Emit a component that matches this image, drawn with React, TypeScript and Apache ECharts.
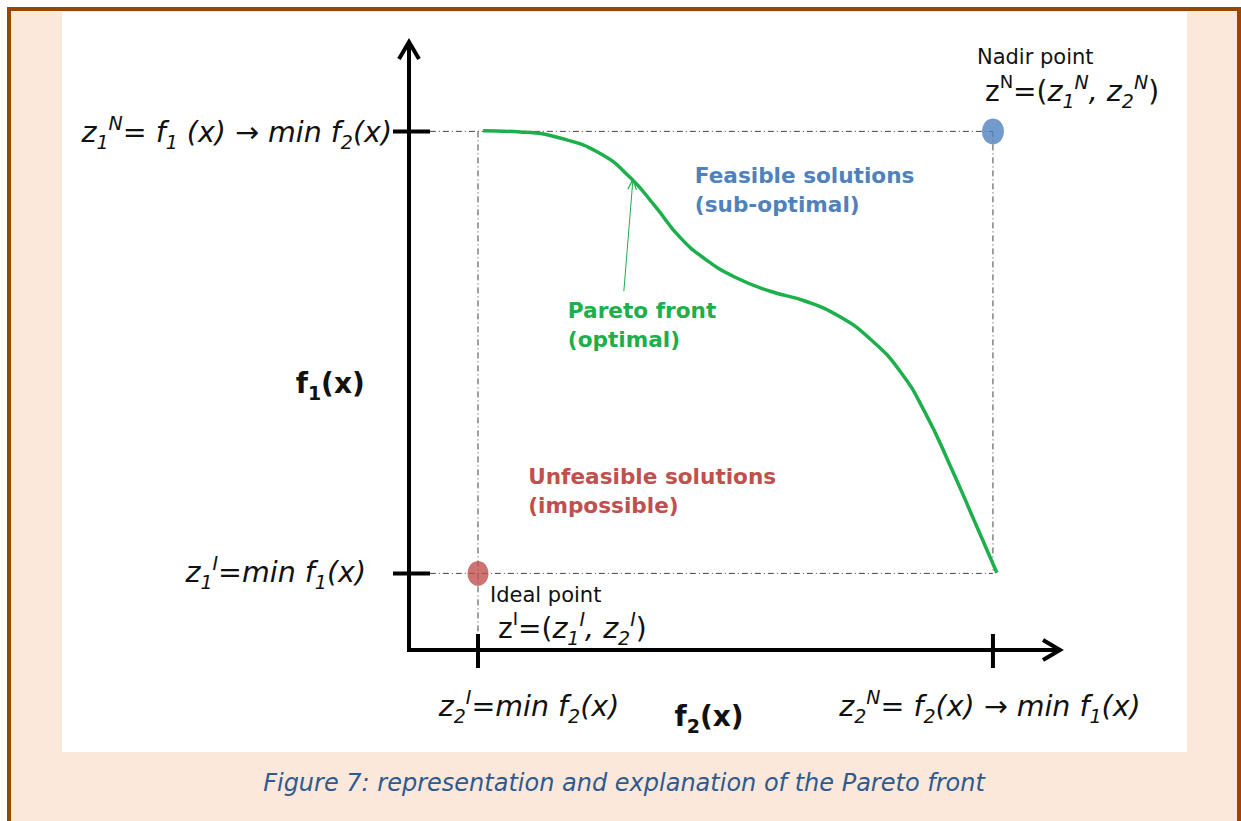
import React, { useEffect, useRef } from "react";
import * as echarts from "echarts";

// ---- data (abstract objective-space units) ----
const X_MIN = 0;
const X_MAX = 10;
const Y_MIN = 0;
const Y_MAX = 10;

// Pareto front samples: f2 (horizontal) and f1 (vertical)
const paretoF2 = [1.14, 1.71, 2.32, 2.93, 3.39, 3.78, 4.16, 4.55, 5.01, 5.55, 6.08, 6.62, 7.08, 7.54, 7.93, 8.31, 8.69, 9.03];
const paretoF1 = [8.54, 8.52, 8.42, 8.17, 7.78, 7.3, 6.79, 6.43, 6.13, 5.9, 5.74, 5.48, 5.12, 4.59, 3.9, 3.04, 2.11, 1.27];

const idealPoint = [1.06, 1.26];
const nadirPoint = [8.97, 8.53];
const tickF2 = [1.06, 8.97];
const tickF1 = [1.26, 8.53];
const pointerFrom = [3.3, 5.9];
const pointerTo = [3.44, 7.74];

// label anchors (data coords)
const feasibleAt = [4.39, 7.57];
const paretoAt = [2.44, 5.34];
const unfeasibleAt = [1.83, 2.61];
const f1NameAt = [-1.21, 4.39];
const f2NameAt = [4.61, -1.1];

const feasibleText = "Feasible solutions\n(sub-optimal)";
const paretoText = "Pareto front\n(optimal)";
const unfeasibleText = "Unfeasible solutions\n(impossible)";
const captionText = "Figure 7: representation and explanation of the Pareto front";

const yTopLabel = "{i|z}{s|1}{p|N}{i|= f}{s|1}{i| (x) → min f}{s|2}{i|(x)}";
const yBottomLabel = "{i|z}{s|1}{p|I}{i|=min f}{s|1}{i|(x)}";
const xLeftLabel = "{i|z}{s|2}{p|I}{i|=min f}{s|2}{i|(x)}";
const xRightLabel = "{i|z}{s|2}{p|N}{i|= f}{s|2}{i|(x) → min f}{s|1}{i|(x)}";
const f1Name = "{b|f}{bs|1}{b|(x)}";
const f2Name = "{b|f}{bs|2}{b|(x)}";
const nadirTitle = "Nadir point";
const nadirFormula = "{u|z}{pu|N}{u|=(}{i|z}{s|1}{p|N}{i|, z}{s|2}{p|N}{u|)}";
const idealTitle = "Ideal point";
const idealFormula = "{u|z}{pu|I}{u|=(}{i|z}{s|1}{p|I}{i|, z}{s|2}{p|I}{u|)}";

const FONT = "DejaVu Sans";
const INK = "#111111";
const GREEN = "#1DAF4C";
const BLUE = "#4F81BD";
const RED = "#C0504D";

const rich: any = {
  i: { fontFamily: FONT, fontStyle: "italic", fontSize: 28.5, lineHeight: 38, color: INK },
  u: { fontFamily: FONT, fontSize: 28, lineHeight: 38, color: INK },
  s: { fontFamily: FONT, fontStyle: "italic", fontSize: 19, lineHeight: 18, verticalAlign: "bottom", color: INK },
  p: { fontFamily: FONT, fontStyle: "italic", fontSize: 19, lineHeight: 18, verticalAlign: "top", color: INK },
  pu: { fontFamily: FONT, fontSize: 18, lineHeight: 18, verticalAlign: "top", color: INK },
  b: { fontFamily: FONT, fontWeight: "bold", fontSize: 28, lineHeight: 38, color: INK },
  bs: { fontFamily: FONT, fontWeight: "bold", fontSize: 19, lineHeight: 19, verticalAlign: "bottom", color: INK },
};

const refLine = (data: number[][]) => ({
  type: "line",
  data,
  symbol: "none",
  silent: true,
  lineStyle: { color: "#444", width: 1, type: [6, 3, 1, 3] },
  z: 1,
});

export default function App() {
  const ref = useRef<HTMLDivElement>(null);
  useEffect(() => {
    if (!ref.current) return;
    const chart = echarts.init(ref.current, null, { renderer: "svg" });
    chart.setOption({
      animation: false,
      backgroundColor: "transparent",
      grid: { left: 409, right: 181, top: 42, bottom: 171, containLabel: false },
      xAxis: {
        type: "value", min: X_MIN, max: X_MAX,
        axisLine: { show: false }, axisTick: { show: false }, axisLabel: { show: false }, splitLine: { show: false },
      },
      yAxis: {
        type: "value", min: Y_MIN, max: Y_MAX,
        axisLine: { show: false }, axisTick: { show: false }, axisLabel: { show: false }, splitLine: { show: false },
      },
      series: [
        refLine([[0.32, nadirPoint[1]], [nadirPoint[0], nadirPoint[1]]]),
        refLine([[nadirPoint[0], nadirPoint[1]], [nadirPoint[0], idealPoint[1]]]),
        refLine([[0.32, idealPoint[1]], [nadirPoint[0], idealPoint[1]]]),
        refLine([[idealPoint[0], nadirPoint[1]], [idealPoint[0], Y_MIN]]),
        {
          type: "line",
          data: paretoF2.map((x, i) => [x, paretoF1[i]]),
          smooth: 0.5,
          symbol: "none",
          lineStyle: { color: GREEN, width: 3.5 },
          z: 3,
        },
        {
          type: "line",
          data: [pointerFrom, pointerTo],
          symbol: "none",
          lineStyle: { color: GREEN, width: 1 },
          z: 3,
        },
        {
          type: "scatter",
          data: [nadirPoint],
          symbol: "circle",
          symbolSize: [22, 26],
          itemStyle: { color: BLUE },
          z: 4,
        },
        {
          type: "scatter",
          data: [idealPoint],
          symbol: "circle",
          symbolSize: [21, 25],
          itemStyle: { color: RED },
          z: 4,
        },
      ],
    });

    const P = (v: number[]) => chart.convertToPixel({ gridIndex: 0 }, v) as number[];
    const o = P([X_MIN, Y_MIN]);
    const top = P([X_MIN, Y_MAX]);
    const right = P([X_MAX, Y_MIN]);
    const axisStyle = { stroke: "#000", lineWidth: 4, fill: null, lineJoin: "miter", lineCap: "butt" };
    const g: any[] = [];
    g.push({ type: "polyline", shape: { points: [top, o, right] }, style: axisStyle, z: 10 });
    g.push({ type: "polyline", shape: { points: [[top[0] - 10, top[1] + 17], top, [top[0] + 10, top[1] + 17]] }, style: axisStyle, z: 10 });
    g.push({ type: "polyline", shape: { points: [[right[0] - 17, right[1] - 10], right, [right[0] - 17, right[1] + 10]] }, style: axisStyle, z: 10 });
    tickF1.forEach((v) => {
      const p = P([X_MIN, v]);
      g.push({ type: "line", shape: { x1: p[0] - 16, y1: p[1], x2: p[0] + 21, y2: p[1] }, style: { stroke: "#000", lineWidth: 4 }, z: 10 });
    });
    tickF2.forEach((v) => {
      const p = P([v, Y_MIN]);
      g.push({ type: "line", shape: { x1: p[0], y1: p[1] - 16, x2: p[0], y2: p[1] + 18 }, style: { stroke: "#000", lineWidth: 4 }, z: 10 });
    });
    // pointer arrow head
    const a = P(pointerFrom);
    const b = P(pointerTo);
    const ang = Math.atan2(b[1] - a[1], b[0] - a[0]);
    const hl = 11;
    const w1 = [b[0] - hl * Math.cos(ang - 0.4), b[1] - hl * Math.sin(ang - 0.4)];
    const w2 = [b[0] - hl * Math.cos(ang + 0.4), b[1] - hl * Math.sin(ang + 0.4)];
    g.push({ type: "polyline", shape: { points: [w1, b, w2] }, style: { stroke: GREEN, lineWidth: 1.2, fill: null }, z: 10 });

    const txt = (x: number, y: number, text: string, align: string, extra: any = {}) => ({
      type: "text",
      x, y, z: 20,
      style: Object.assign({ text, rich, align, verticalAlign: "middle", textAlign: align, textVerticalAlign: "middle", fill: INK, font: `28px '${FONT}'` }, extra),
    });
    const yt = P([X_MIN, tickF1[1]]);
    const yb = P([X_MIN, tickF1[0]]);
    const xl = P([tickF2[0], Y_MIN]);
    const xr = P([tickF2[1], Y_MIN]);
    g.push(txt(yt[0] - 17, yt[1] + 1, yTopLabel, "right"));
    g.push(txt(yb[0] - 43, yb[1] - 1, yBottomLabel, "right"));
    g.push(txt(xl[0] + 51, xl[1] + 56, xLeftLabel, "center"));
    g.push(txt(xr[0] - 3, xr[1] + 56, xRightLabel, "center"));
    const f1p = P(f1NameAt);
    const f2p = P(f2NameAt);
    g.push(txt(f1p[0], f1p[1], f1Name, "center"));
    g.push(txt(f2p[0], f2p[1], f2Name, "center"));
    const np = P(nadirPoint);
    const ip = P(idealPoint);
    g.push(txt(np[0] - 16, np[1] - 74, nadirTitle, "left", { rich: undefined, font: `21px '${FONT}'` }));
    g.push(txt(np[0] - 8, np[1] - 40, nadirFormula, "left"));
    g.push(txt(ip[0] + 12, ip[1] + 22, idealTitle, "left", { rich: undefined, font: `21px '${FONT}'` }));
    g.push(txt(ip[0] + 20, ip[1] + 55, idealFormula, "left"));
    const region = (at: number[], text: string, color: string) => {
      const p = P(at);
      return txt(p[0], p[1], text, "left", { rich: undefined, fill: color, font: `bold 21.6px '${FONT}'`, lineHeight: 29 });
    };
    g.push(region(feasibleAt, feasibleText, BLUE));
    g.push(region(paretoAt, paretoText, GREEN));
    g.push(region(unfeasibleAt, unfeasibleText, RED));
    g.push({
      type: "text", x: 624, y: 783, z: 20,
      style: { text: captionText, align: "center", verticalAlign: "middle", textAlign: "center", textVerticalAlign: "middle", fill: "#2F5A8F", font: `italic 24px '${FONT}'` },
    });
    chart.setOption({ graphic: g });
    return () => chart.dispose();
  }, []);

  return (
    <div style={{ position: "fixed", left: 0, top: 0, width: 1241, height: 821, background: "#ffffff", overflow: "hidden" }}>
      <div style={{ position: "absolute", left: 7, top: 7, width: 1234, height: 814, boxSizing: "border-box", borderTop: "4px solid #9A4500", borderLeft: "4px solid #9A4500", borderRight: "4px solid #9A4500", background: "#FBE8DA" }} />
      <div style={{ position: "absolute", left: 62, top: 12, width: 1125, height: 740, background: "#ffffff" }} />
      <div ref={ref} style={{ position: "absolute", left: 0, top: 0, width: 1241, height: 821 }} />
    </div>
  );
}
